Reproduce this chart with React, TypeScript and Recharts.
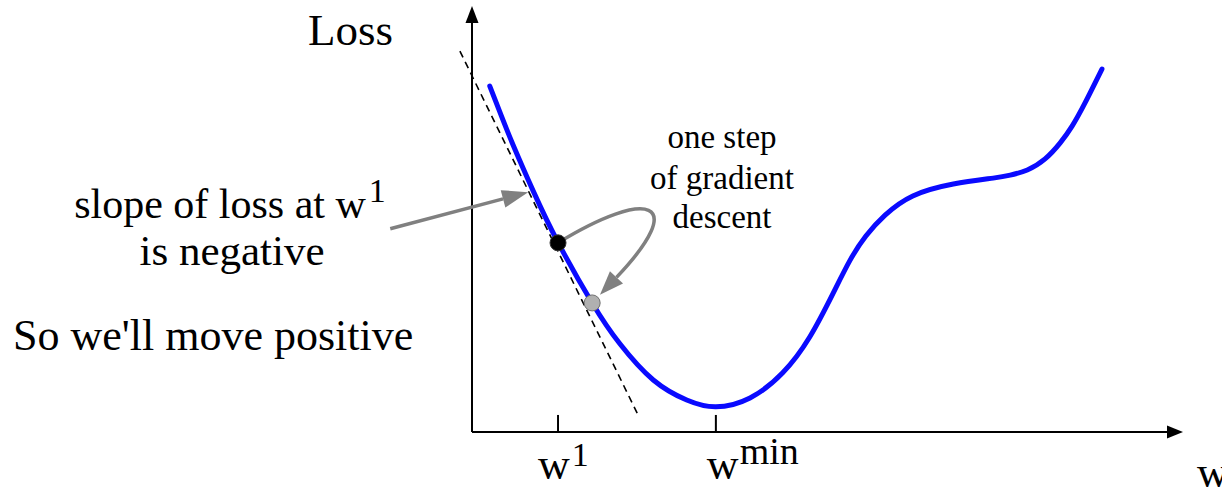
import React from "react";
import { ComposedChart, Line, Scatter, XAxis, YAxis, ReferenceLine } from "recharts";

// Loss curve samples (w, loss) in chart units (0..100 on both axes)
const curveW = [2.5, 4.2, 5.9, 8.6, 12.1, 16.9, 20.8, 25.5, 30.2, 34.3, 39.1, 43.7, 47.5, 50.8, 53.2, 55.4, 58.1, 62.0, 67.7, 73.3, 75.7, 78.1, 80.6, 82.7, 84.4, 86.2, 88.6];
const curveLoss = [81.2, 73.9, 66.9, 56.6, 44.5, 30.3, 20.7, 12.2, 7.5, 5.9, 8.0, 13.9, 22.3, 32.6, 40.4, 46.0, 50.9, 55.4, 58.2, 59.6, 60.3, 61.5, 64.1, 67.8, 71.8, 77.2, 85.2];

// tick positions and labels
const tickValues = [12.1, 34.3];
const tickBase = ["w", "w"];
const tickSup = ["1", "min"];

// points: current weight and weight after one step
const currentPoint = [{ x: 12.1, y: 44.4 }];
const nextPoint = [{ x: 16.9, y: 30.3 }];

// tangent (dashed) line endpoints
const tangentStart = { x: -1.7, y: 89.4 };
const tangentEnd = { x: 23.3, y: 4.2 };

// annotation arrows
const slopeArrowStart = { x: -11.5, y: 47.7 };
const slopeArrowTip = { x: 7.9, y: 56.3 };
const stepArrowStart = { x: 12.1, y: 44.4 };
const stepArrowTip = { x: 18.0, y: 32.2 };

const data = curveW.map((w, i) => ({ x: w, y: curveLoss[i] }));

const FONT = "'Liberation Serif', 'Times New Roman', Times, serif";
const fontStyle = { fontFamily: FONT };

const makeArrow = (color: string, width: number, headLen: number, headW: number) => (p: any) => {
  const { x1, y1, x2, y2 } = p;
  const dx = x2 - x1;
  const dy = y2 - y1;
  const len = Math.sqrt(dx * dx + dy * dy) || 1;
  const ux = dx / len;
  const uy = dy / len;
  const bx = x2 - ux * headLen;
  const by = y2 - uy * headLen;
  const px = -uy * headW / 2;
  const py = ux * headW / 2;
  return (
    <g>
      <line x1={x1} y1={y1} x2={bx} y2={by} stroke={color} strokeWidth={width} />
      <polygon points={`${x2},${y2} ${bx + px},${by + py} ${bx - px},${by - py}`} fill={color} />
    </g>
  );
};

const curvedArrow = (p: any) => {
  const { x1, y1, x2, y2 } = p;
  const c1x = x1 + 90, c1y = y1 - 55;
  const c2x = x2 + 90, c2y = y2 - 95;
  const dx = x2 - c2x, dy = y2 - c2y;
  const len = Math.sqrt(dx * dx + dy * dy) || 1;
  const ux = dx / len, uy = dy / len;
  const headLen = 24, headW = 18;
  const bx = x2 - ux * headLen, by = y2 - uy * headLen;
  const px = -uy * headW / 2, py = ux * headW / 2;
  return (
    <g>
      <path d={`M${x1},${y1} C${c1x},${c1y} ${c2x},${c2y} ${bx},${by}`} fill="none" stroke="#808080" strokeWidth={3.5} />
      <polygon points={`${x2},${y2} ${bx + px},${by + py} ${bx - px},${by - py}`} fill="#808080" />
    </g>
  );
};

const plainLine = (p: any) => (
  <line x1={p.x1} y1={p.y1} x2={p.x2} y2={p.y2} stroke="#000" strokeWidth={1.6} strokeDasharray="7 5" />
);

const tickMark = (p: any) => (
  <line x1={p.x1} y1={p.y1} x2={p.x2} y2={p.y2} stroke="#000" strokeWidth={2} />
);

const WTick = (props: any) => {
  const { x, y, index } = props;
  const i = index ?? 0;
  const dx0 = i === 0 ? -20 : -9;
  return (
    <text x={x + dx0} y={y + 47} style={fontStyle} fontSize={44} fill="#000">
      {tickBase[i]}
      <tspan dx={i === 0 ? 2 : 1} dy={i === 0 ? -13 : -15} fontSize={i === 0 ? 34 : 38}>
        {tickSup[i]}
      </tspan>
    </text>
  );
};

export default function App() {
  return (
    <div style={{ position: "absolute", left: 0, top: 0, width: 1222, height: 489, background: "#fff" }}>
      <ComposedChart
        width={1222}
        height={489}
        data={data}
        margin={{ top: 6, right: 39, bottom: 0, left: 472 }}
      >
        <XAxis
          type="number"
          dataKey="x"
          domain={[0, 100]}
          ticks={tickValues}
          interval={0}
          axisLine={false}
          tickLine={false}
          tickSize={0}
          tickMargin={0}
          height={57}
          tick={<WTick />}
        />
        <YAxis type="number" dataKey="y" domain={[0, 100]} hide />
        <ReferenceLine segment={[{ x: 0, y: 0 }, { x: 100, y: 0 }]} ifOverflow="visible" shape={makeArrow("#000", 2, 16, 13)} />
        <ReferenceLine segment={[{ x: 0, y: 0 }, { x: 0, y: 100 }]} ifOverflow="visible" shape={makeArrow("#000", 2, 17, 13)} />
        {tickValues.map((t) => (
          <ReferenceLine key={t} segment={[{ x: t, y: 0 }, { x: t, y: 4 }]} ifOverflow="visible" shape={tickMark} />
        ))}
        <ReferenceLine segment={[tangentStart, tangentEnd]} ifOverflow="visible" shape={plainLine} />
        <Line
          type="natural"
          dataKey="y"
          stroke="#0a0aff"
          strokeWidth={5}
          strokeLinecap="round"
          dot={false}
          activeDot={false}
          isAnimationActive={false}
        />
        <Scatter
          data={currentPoint}
          isAnimationActive={false}
          shape={(p: any) => <circle cx={p.cx} cy={p.cy} r={8} fill="#000" stroke="#333" strokeWidth={1} />}
        />
        <Scatter
          data={nextPoint}
          isAnimationActive={false}
          shape={(p: any) => <circle cx={p.cx} cy={p.cy} r={8} fill="#b0b0b0" stroke="#707070" strokeWidth={1} />}
        />
        <ReferenceLine segment={[slopeArrowStart, slopeArrowTip]} ifOverflow="visible" shape={makeArrow("#808080", 3.5, 26, 18)} />
        <ReferenceLine segment={[stepArrowStart, stepArrowTip]} ifOverflow="visible" shape={curvedArrow} />
      </ComposedChart>
      <svg
        width={1222}
        height={489}
        style={{ position: "absolute", left: 0, top: 0, pointerEvents: "none" }}
      >
        <g style={fontStyle} fill="#000">
          <text x={308} y={45} fontSize={45}>Loss</text>
          <text x={230} y={218} fontSize={42} textAnchor="middle">
            slope of loss at w<tspan dx={3} dy={-16} fontSize={34}>1</tspan>
          </text>
          <text x={232} y={265} fontSize={43} textAnchor="middle">is negative</text>
          <text x={13} y={350} fontSize={44}>So we'll move positive</text>
          <text x={722} y={148} fontSize={33} textAnchor="middle">one step</text>
          <text x={722} y={189} fontSize={33} textAnchor="middle">of gradient</text>
          <text x={722} y={228} fontSize={33} textAnchor="middle">descent</text>
          <text x={1197} y={487} fontSize={44}>w</text>
        </g>
      </svg>
    </div>
  );
}
